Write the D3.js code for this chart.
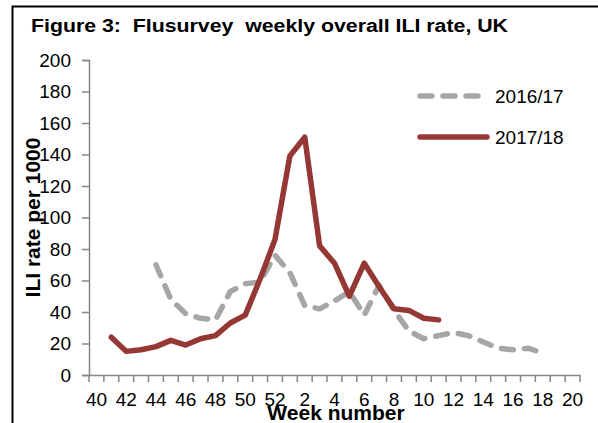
<!DOCTYPE html>
<html>
<head>
<meta charset="utf-8">
<script src="https://cdn.jsdelivr.net/npm/d3@7.9.0/dist/d3.min.js"></script>
<style>
  html, body { margin: 0; padding: 0; background: #fff; }
  svg { display: block; font-family: "Liberation Sans", Arial, sans-serif; }
</style>
</head>
<body>
<svg id="chart"></svg>
<script>
// week numbers on the category axis (season runs from week 40 to week 20)
const weeks = [40, 41, 42, 43, 44, 45, 46, 47, 48, 49, 50, 51, 52,
               1, 2, 3, 4, 5, 6, 7, 8, 9, 10, 11, 12, 13, 14, 15, 16, 17, 18, 19, 20];
const weekLabels = [40, 42, 44, 46, 48, 50, 52, 2, 4, 6, 8, 10, 12, 14, 16, 18, 20];

// ILI rate per 1000, one value per week (null = no data)
const rate1617 = [null, null, null, null, 70, 48, 39, 36, 35, 53, 58, 59, 76,
                  65, 44, 42, 47, 53, 38, 57, 41, 28, 23, 25, 27, 25, 21, 17, 16, 17, 14, null, null];
const rate1718 = [null, 24, 15, 16, 18, 22, 19, 23, 25, 33, 38, 61, 86,
                  139, 151, 82, 71, 50, 71, 56, 42, 41, 36, 35, null, null, null, null, null, null, null, null, null];

const yTicks = [0, 20, 40, 60, 80, 100, 120, 140, 160, 180, 200];
const seasons = ["2016/17", "2017/18"];

const svgWidth = 598;
const svgHeight = 423;
const margin = { top: 60, right: 18, bottom: 48, left: 89 };

const svg = d3.select("#chart")
    .attr("width", svgWidth)
    .attr("height", svgHeight);

const axisGrey = "#868686";
const red = "#953735";
const grey = "#a6a6a6";

// outer frame (runs off the right and bottom of the picture)
svg.append("rect")
    .attr("x", 12.5)
    .attr("y", 6.5)
    .attr("width", 700)
    .attr("height", 600)
    .attr("fill", "none")
    .attr("stroke", "#000")
    .attr("stroke-width", 2);

svg.append("text")
    .attr("x", 31)
    .attr("y", 32)
    .style("font-size", "18px")
    .style("font-weight", "bold")
    .style("white-space", "pre")
    .attr("textLength", 477)
    .attr("lengthAdjust", "spacingAndGlyphs")
    .text("Figure 3:  Flusurvey  weekly overall ILI rate, UK");

const x = d3.scaleBand()
    .domain(weeks)
    .range([margin.left, svgWidth - margin.right])
    .paddingInner(0)
    .paddingOuter(0);

const y = d3.scaleLinear()
    .domain([0, 200])
    .range([svgHeight - margin.bottom, margin.top]);

const x0 = margin.left;
const y0 = y(0);

// y axis
const yAxis = svg.append("g")
    .attr("transform", `translate(${x0}, 0)`)
    .call(d3.axisLeft(y).tickValues(yTicks).tickSize(7).tickPadding(11));
yAxis.select(".domain").attr("stroke", axisGrey).attr("stroke-width", 1.5);
yAxis.selectAll(".tick line").attr("stroke", axisGrey).attr("stroke-width", 1.5);
yAxis.selectAll("text").style("font-size", "19px").attr("fill", "#000");

// x axis: labels on every other week, tick marks between categories
const xAxis = svg.append("g")
    .attr("transform", `translate(0, ${y0})`)
    .call(d3.axisBottom(x).tickValues(weekLabels).tickSize(0).tickPadding(18));
xAxis.select(".domain").attr("stroke", axisGrey).attr("stroke-width", 1.5);
xAxis.selectAll("text").style("font-size", "19px").attr("fill", "#000");

const edges = weeks.map(w => x(w)).concat([x(weeks[weeks.length - 1]) + x.bandwidth()]);
svg.append("g")
    .selectAll("line")
    .data(edges)
    .enter()
    .append("line")
    .attr("x1", d => d)
    .attr("x2", d => d)
    .attr("y1", y0)
    .attr("y2", y0 + 7)
    .attr("stroke", axisGrey)
    .attr("stroke-width", 1.5);

// axis titles
svg.append("text")
    .attr("transform", `translate(40, ${(y(0) + y(200)) / 2}) rotate(-90)`)
    .attr("text-anchor", "middle")
    .style("font-size", "21px")
    .style("font-weight", "bold")
    .text("ILI rate per 1000");

svg.append("text")
    .attr("x", 336)
    .attr("y", 420)
    .attr("text-anchor", "middle")
    .style("font-size", "21px")
    .style("font-weight", "bold")
    .text("Week number");

// lines
const line = d3.line()
    .defined(d => d.v != null)
    .x(d => x(d.w) + x.bandwidth() / 2)
    .y(d => y(d.v));

const series = [
    { name: seasons[0], values: rate1617, color: grey, dash: "12,11" },
    { name: seasons[1], values: rate1718, color: red, dash: null }
];

series.forEach(s => {
    svg.append("path")
        .datum(weeks.map((w, i) => ({ w: w, v: s.values[i] })))
        .attr("d", line)
        .attr("fill", "none")
        .attr("stroke", s.color)
        .attr("stroke-width", 5.5)
        .attr("stroke-linejoin", "round")
        .attr("stroke-linecap", "round")
        .attr("stroke-dasharray", s.dash);
});

// legend
const legend = svg.append("g");
series.forEach((s, i) => {
    const ly = 96 + i * 41;
    legend.append("line")
        .attr("x1", 420)
        .attr("x2", i === 0 ? 478 : 487)
        .attr("y1", ly)
        .attr("y2", ly)
        .attr("stroke", s.color)
        .attr("stroke-width", 5.5)
        .attr("stroke-linecap", "round")
        .attr("stroke-dasharray", s.dash);
    legend.append("text")
        .attr("x", 495)
        .attr("y", ly + 7)
        .style("font-size", "19px")
        .text(s.name);
});
</script>
</body>
</html>
